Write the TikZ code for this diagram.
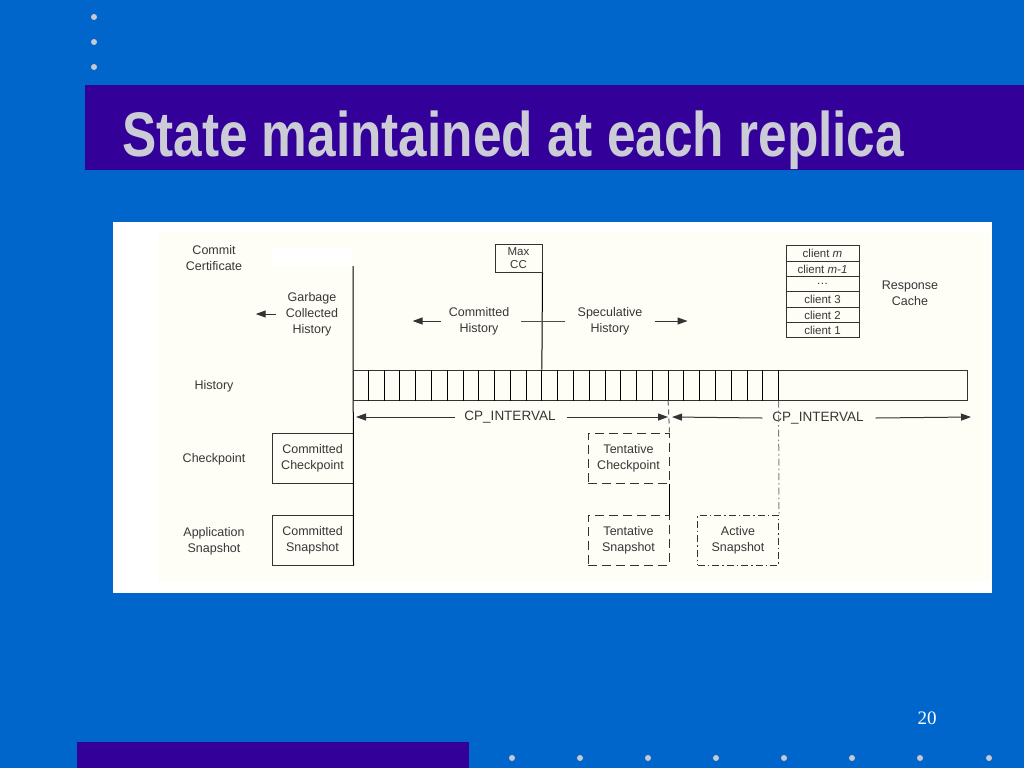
\documentclass[tikz,border=0pt]{standalone}
\usepackage{fontspec}
\setmainfont{Liberation Sans}
\newfontfamily\titlefont[FakeStretch=0.815]{Liberation Sans}
\newfontfamily\numfont{Liberation Serif}
\usetikzlibrary{arrows.meta,positioning}
\definecolor{slideblue}{RGB}{0,102,204}
\definecolor{barpurple}{RGB}{51,0,153}
\definecolor{dotgrey}{RGB}{200,200,210}
\definecolor{titlegrey}{RGB}{204,204,214}
\definecolor{paper}{RGB}{254,253,246}
\definecolor{inkgrey}{RGB}{55,55,55}

\begin{document}
\begin{tikzpicture}[x=1pt, y=-1pt,
  txt/.style={align=center, font=\fontsize{12.5}{16}\selectfont, text=inkgrey, inner sep=0pt},
  box/.style={txt, draw=black!80, line width=1pt, minimum width=81pt, minimum height=50pt},
  tbox/.style={box, dash pattern=on 9pt off 5pt},
  abox/.style={box, dash pattern=on 7pt off 3pt on 1.5pt off 3pt},
  slot/.style={txt, draw=black!80, line width=1pt, minimum width=73pt, minimum height=15.33pt,
               font=\fontsize{11.5}{12}\selectfont},
  arr/.style={-{Triangle[length=10pt, width=7pt]}, line width=1pt, black!80},
  dot/.style={circle, fill=dotgrey, inner sep=0pt, minimum size=6pt}
]
\useasboundingbox (0,0) rectangle (1024,768);
% slide background
\fill[slideblue] (0,0) rectangle (1024,768);
\fill[barpurple] (85,85) rectangle (1024,170);
\fill[barpurple] (77,742) rectangle (469,768);
\foreach \y [count=\i] in {17,42,67}
  \node[dot] (ldot\i) at (94,\y) {};
\foreach \x [count=\i] in {512,580,648,716,784,852,920,989}
  \node[dot] (bdot\i) at (\x,758) {};
\node[anchor=base west, inner sep=0pt, text=titlegrey,
      font=\titlefont\bfseries\fontsize{63}{65}\selectfont] (title) at (122,156)
  {State maintained at each replica};
\node[font=\numfont\fontsize{19}{20}\selectfont, text=white] (pgnum) at (927,718) {20};

% figure panel
\fill[white] (113,222) rectangle (992,593);
\fill[paper] (158,232) rectangle (990,582);
\node[fill=white, minimum width=80pt, minimum height=18pt, inner sep=0pt] (blank) at (312,257) {};

% row labels
\node[txt] (ccert) at (214,258) {Commit\\Certificate};
\node[txt] (hlab) at (214,386) {History};
\node[txt] (clab) at (214,459) {Checkpoint};
\node[txt] (alab) at (214,541) {Application\\Snapshot};

% garbage collected side
\coordinate (gctop) at (353,266);
\node[txt] (gch) at (312,314) {Garbage\\Collected\\History};
\draw[arr] ([xshift=-10pt]gch.west) -- ++(-20,0);
\node[box] (cchk) at (312.5,458) {Committed\\Checkpoint};
\node[box] (csnap) at (312.5,540) {Committed\\Snapshot};
\draw[line width=1pt] (gctop) -- (csnap.south east);

% history log
\node[draw=black!80, line width=1pt, minimum width=614pt, minimum height=30pt, inner sep=0pt] (hist) at (660,385) {};
\foreach \i in {1,...,27}
  \draw[line width=0.8pt] ([xshift=\i*15.78pt]hist.north west) -- ([xshift=\i*15.78pt]hist.south west);

\node[box, minimum width=47pt, minimum height=28pt, font=\fontsize{11.5}{13}\selectfont] (maxcc) at (518.5,258) {Max\\CC};
\draw[line width=1pt] (maxcc.south east) -- ([xshift=12*15.78pt]hist.north west);

\node[txt] (comh) at (479,321) {Committed\\History};
\draw[arr] ([xshift=-8pt]comh.west) -- ++(-28,0);
\node[txt] (spech) at (610,321) {Speculative\\History};
\draw[arr] ([xshift=12pt]spech.east) -- ++(33,0);
\draw[line width=0.8pt, black!70] ([xshift=12pt]comh.east) -- ([xshift=-12pt]spech.west);

% checkpoint intervals
\coordinate (cut0) at (353,417);
\coordinate (cut1) at (669,417);
\node[txt, font=\fontsize{13.5}{16}\selectfont] (cp1) at (510,417) {CP\_INTERVAL};
\node[txt, font=\fontsize{13.5}{16}\selectfont] (cp2) at (818,418) {CP\_INTERVAL};
\coordinate (cpend) at (971,417);
\draw[arr] ([xshift=-9pt]cp1.west) -- ([xshift=3pt]cut0);
\draw[arr] ([xshift=11pt]cp1.east) -- ([xshift=-1pt]cut1);
\draw[arr] ([xshift=-10pt]cp2.west) -- ([xshift=3pt]cut1);
\draw[arr] ([xshift=12pt]cp2.east) -- (cpend);

% tentative and active state
\node[tbox] (tchk) at (628.5,458) {Tentative\\Checkpoint};
\node[tbox] (tsnap) at (628.5,540) {Tentative\\Snapshot};
\node[abox] (asnap) at (738,540) {Active\\Snapshot};
\draw[line width=1pt, black!60, dash pattern=on 5pt off 4pt] ([xshift=20*15.78pt]hist.south west) -- (tchk.north east);
\draw[line width=1pt] (tchk.south east) -- (tsnap.north east);
\draw[line width=1pt, gray, dash pattern=on 7pt off 3pt on 1.5pt off 3pt] ([xshift=27*15.78pt]hist.south west) -- (asnap.north east);

% response cache
\foreach \t [count=\i] in {client \textit{m}, client \textit{m-1}, {.\kern0.5pt.\kern0.5pt.}, client 3, client 2, client 1}
  \node[slot] (cl\i) at (822.5,{238.33+\i*15.33}) {\t};
\node[txt] (rcache) at (910,293) {Response\\Cache};
\end{tikzpicture}
\end{document}
